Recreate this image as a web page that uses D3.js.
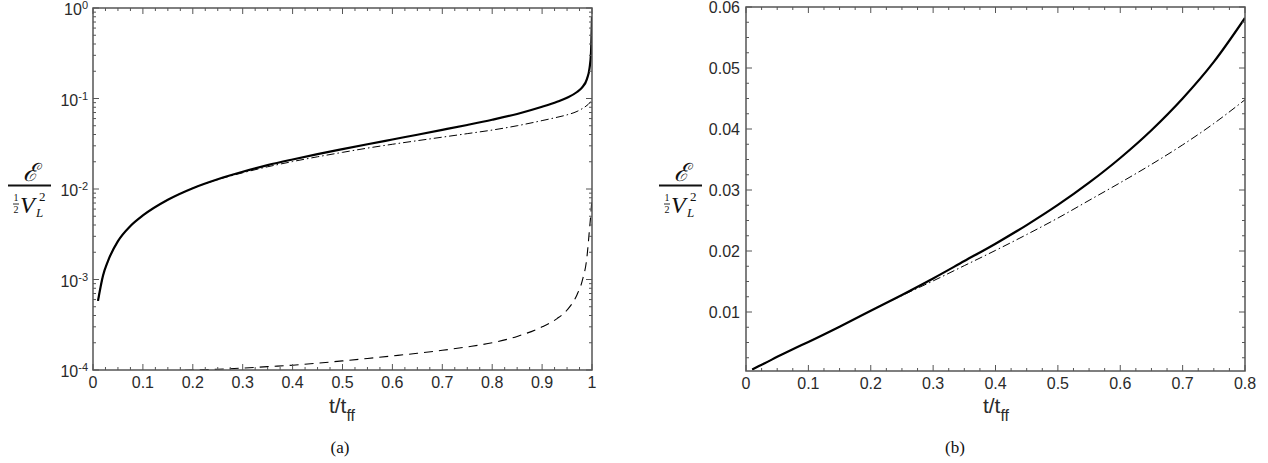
<!DOCTYPE html>
<html>
<head>
<meta charset="utf-8">
<script src="https://cdn.jsdelivr.net/npm/d3@7"></script>
<style>
  html, body { margin: 0; padding: 0; background: #fff; }
  svg { display: block; }
</style>
</head>
<body>
<svg id="chart" width="1268" height="463"></svg>
<script>
// ---------------- DATA ----------------
const tValues = [0.01,0.02,0.03,0.05,0.075,0.1,0.15,0.2,0.25,0.3,0.35,0.4,0.45,0.5,0.55,0.6,0.65,0.7,0.75,0.8,0.85,0.9,0.93,0.95,0.97,0.98,0.99,0.995,0.998,1.0];
// solid line
const energyTotal = [0.00058,0.0011,0.0016,0.00265,0.0039,0.0051,0.0076,0.0102,0.0128,0.0155,0.01835,0.0212,0.02425,0.02755,0.0312,0.03525,0.0398,0.0450,0.0510,0.0582,0.0675,0.081,0.092,0.102,0.118,0.132,0.165,0.215,0.32,0.8];
// dash-dot line
const energyDashDot = [0.00058,0.0011,0.0016,0.00265,0.0039,0.0051,0.0076,0.0102,0.0127,0.0151,0.0176,0.0201,0.0227,0.0254,0.0283,0.0312,0.0342,0.0374,0.0409,0.0448,0.050,0.057,0.062,0.066,0.072,0.077,0.084,0.089,0.094,0.10];
// dashed line
const energyDashed = [6.5e-5,7.2e-5,7.8e-5,8.5e-5,9e-5,9.3e-5,9.7e-5,1.0e-4,1.02e-4,1.05e-4,1.09e-4,1.13e-4,1.19e-4,1.26e-4,1.34e-4,1.43e-4,1.53e-4,1.65e-4,1.8e-4,2.0e-4,2.35e-4,3.0e-4,3.7e-4,4.6e-4,6.8e-4,9.5e-4,1.8e-3,3.6e-3,5.6e-3,8e-3];

const xTicksA = [0,0.1,0.2,0.3,0.4,0.5,0.6,0.7,0.8,0.9,1];
const xTickLabelsA = ["0","0.1","0.2","0.3","0.4","0.5","0.6","0.7","0.8","0.9","1"];
const yExponentsA = [-4,-3,-2,-1,0];
const xTicksB = [0,0.1,0.2,0.3,0.4,0.5,0.6,0.7,0.8];
const xTickLabelsB = ["0","0.1","0.2","0.3","0.4","0.5","0.6","0.7","0.8"];
const yTicksB = [0.01,0.02,0.03,0.04,0.05,0.06];
const yTickLabelsB = ["0.01","0.02","0.03","0.04","0.05","0.06"];
const xAxisTitle = ["t/t","ff"];
const panelLabels = ["(a)","(b)"];

// ---------------- SETUP ----------------
const svg = d3.select("#chart");
const AXIS_COLOR = "#555";
const TEXT_COLOR = "#2a2a2a";
const SANS = "'Liberation Sans', Arial, Helvetica, sans-serif";
const SERIF = "'Liberation Serif', 'Times New Roman', serif";
const TICK_FS = 16;

const series = tValues.map((t, i) => ({t, s: energyTotal[i], dd: energyDashDot[i], d: energyDashed[i]}));

function drawFrame(g, x, y, opts) {
  const [x0, x1] = x.range();
  const [yb, yt] = y.range();
  const MAJ = 6, MIN = 3;
  const tk = g.append("g").attr("stroke", AXIS_COLOR).attr("stroke-width", 1);
  opts.xMinor.forEach(v => {
    const px = x(v);
    tk.append("line").attr("x1", px).attr("x2", px).attr("y1", yb).attr("y2", yb - MIN);
    tk.append("line").attr("x1", px).attr("x2", px).attr("y1", yt).attr("y2", yt + MIN);
  });
  opts.xMajor.forEach(v => {
    const px = x(v);
    tk.append("line").attr("x1", px).attr("x2", px).attr("y1", yb).attr("y2", yb - MAJ);
    tk.append("line").attr("x1", px).attr("x2", px).attr("y1", yt).attr("y2", yt + MAJ);
  });
  opts.yMinor.forEach(v => {
    const py = y(v);
    tk.append("line").attr("x1", x0).attr("x2", x0 + MIN).attr("y1", py).attr("y2", py);
    tk.append("line").attr("x1", x1).attr("x2", x1 - MIN).attr("y1", py).attr("y2", py);
  });
  opts.yMajor.forEach(v => {
    const py = y(v);
    tk.append("line").attr("x1", x0).attr("x2", x0 + MAJ).attr("y1", py).attr("y2", py);
    tk.append("line").attr("x1", x1).attr("x2", x1 - MAJ).attr("y1", py).attr("y2", py);
  });
  g.append("rect")
    .attr("x", x0).attr("y", yt).attr("width", x1 - x0).attr("height", yb - yt)
    .attr("fill", "none").attr("stroke", AXIS_COLOR).attr("stroke-width", 1.5);
  opts.xMajor.forEach((v, i) => {
    g.append("text").attr("x", x(v)).attr("y", yb + 18)
      .attr("text-anchor", "middle").attr("font-family", SANS).attr("font-size", TICK_FS)
      .attr("fill", TEXT_COLOR).text(opts.xLabels[i]);
  });
}

function drawXTitle(g, cx, baseline) {
  const t = g.append("text").attr("x", cx).attr("y", baseline)
    .attr("text-anchor", "middle").attr("font-family", SANS).attr("font-size", 21).attr("fill", TEXT_COLOR);
  t.append("tspan").text(xAxisTitle[0]);
  t.append("tspan").attr("dy", 8).attr("font-size", 16).text(xAxisTitle[1]);
}

function drawYLabel(g, x0) {
  g.append("text").attr("x", x0 + 22).attr("y", 181).attr("text-anchor", "middle")
    .attr("font-family", "'DejaVu Serif', " + SERIF).attr("font-style", "italic")
    .attr("font-size", 25).attr("fill", "#111").text("\u2130");
  g.append("line").attr("x1", x0).attr("x2", x0 + 43).attr("y1", 185.5).attr("y2", 185.5)
    .attr("stroke", "#111").attr("stroke-width", 1.8);
  g.append("text").attr("x", x0 + 8).attr("y", 201).attr("text-anchor", "middle")
    .attr("font-family", SERIF).attr("font-size", 10).attr("fill", "#111").text("1");
  g.append("line").attr("x1", x0 + 5).attr("x2", x0 + 11).attr("y1", 204).attr("y2", 204)
    .attr("stroke", "#111").attr("stroke-width", 0.9);
  g.append("text").attr("x", x0 + 8).attr("y", 213).attr("text-anchor", "middle")
    .attr("font-family", SERIF).attr("font-size", 10).attr("fill", "#111").text("2");
  g.append("text").attr("x", x0 + 12).attr("y", 213)
    .attr("font-family", SERIF).attr("font-style", "italic").attr("font-size", 24)
    .attr("fill", "#111").text("V");
  g.append("text").attr("x", x0 + 31).attr("y", 201)
    .attr("font-family", SERIF).attr("font-size", 13).attr("fill", "#111").text("2");
  g.append("text").attr("x", x0 + 28).attr("y", 217)
    .attr("font-family", SERIF).attr("font-style", "italic").attr("font-size", 13)
    .attr("fill", "#111").text("L");
}

function drawCurves(g, x, y, data, clipId) {
  const [x0, x1] = x.range();
  const [yb, yt] = y.range();
  svg.append("defs").append("clipPath").attr("id", clipId)
    .append("rect").attr("x", x0).attr("y", yt).attr("width", x1 - x0).attr("height", yb - yt);
  const cg = g.append("g").attr("clip-path", `url(#${clipId})`);
  const mk = key => d3.line().x(d => x(d.t)).y(d => y(d[key])).curve(d3.curveMonotoneX);
  cg.append("path").datum(data).attr("d", mk("d")).attr("fill", "none")
    .attr("stroke", "#000").attr("stroke-width", 1.1).attr("stroke-dasharray", "9,6");
  cg.append("path").datum(data).attr("d", mk("dd")).attr("fill", "none")
    .attr("stroke", "#000").attr("stroke-width", 1.0).attr("stroke-dasharray", "8,3,1.5,3");
  cg.append("path").datum(data).attr("d", mk("s")).attr("fill", "none")
    .attr("stroke", "#000").attr("stroke-width", 2.2);
}

// ---------------- PANEL A ----------------
{
  const g = svg.append("g");
  const x = d3.scaleLinear().domain([0, 1]).range([93, 592]);
  const y = d3.scaleLog().domain([1e-4, 1]).range([370, 8]);
  const yMajor = yExponentsA.map(e => Math.pow(10, e));
  const yMinor = [];
  yExponentsA.slice(0, -1).forEach(e => { for (let k = 2; k <= 9; k++) yMinor.push(k * Math.pow(10, e)); });
  const xMinor = d3.range(0, 1.0001, 0.025).filter((v, i) => i % 4 !== 0);
  drawCurves(g, x, y, series, "clipA");
  drawFrame(g, x, y, {xMajor: xTicksA, xMinor, yMajor, yMinor, xLabels: xTickLabelsA});
  yExponentsA.forEach(e => {
    const t = g.append("text").attr("x", 88).attr("y", y(Math.pow(10, e)) + 7)
      .attr("text-anchor", "end").attr("font-family", SANS).attr("font-size", TICK_FS).attr("fill", TEXT_COLOR);
    t.append("tspan").text("10");
    t.append("tspan").attr("dy", -6).attr("font-size", 11).text(String(e));
  });
  drawXTitle(g, 342, 413);
  drawYLabel(g, 8);
  g.append("text").attr("x", 340).attr("y", 453).attr("text-anchor", "middle")
    .attr("font-family", SERIF).attr("font-size", 17).attr("fill", "#111").text(panelLabels[0]);
}

// ---------------- PANEL B ----------------
{
  const g = svg.append("g");
  const x = d3.scaleLinear().domain([0, 0.8]).range([746, 1245]);
  const y = d3.scaleLinear().domain([0.00033, 0.06]).range([371, 7]);
  const dataB = series.filter(d => d.t <= 0.8);
  const xMinor = d3.range(0, 0.8001, 0.025).filter((v, i) => i % 4 !== 0);
  const yMinor = d3.range(0.0025, 0.0601, 0.0025).filter((v, i) => (i + 1) % 4 !== 0);
  drawCurves(g, x, y, dataB, "clipB");
  drawFrame(g, x, y, {xMajor: xTicksB, xMinor, yMajor: yTicksB, yMinor, xLabels: xTickLabelsB});
  yTicksB.forEach((v, i) => {
    g.append("text").attr("x", 740).attr("y", y(v) + 6)
      .attr("text-anchor", "end").attr("font-family", SANS).attr("font-size", TICK_FS)
      .attr("fill", TEXT_COLOR).text(yTickLabelsB[i]);
  });
  drawXTitle(g, 996, 413);
  drawYLabel(g, 659);
  g.append("text").attr("x", 955).attr("y", 453).attr("text-anchor", "middle")
    .attr("font-family", SERIF).attr("font-size", 17).attr("fill", "#111").text(panelLabels[1]);
}
</script>
</body>
</html>
